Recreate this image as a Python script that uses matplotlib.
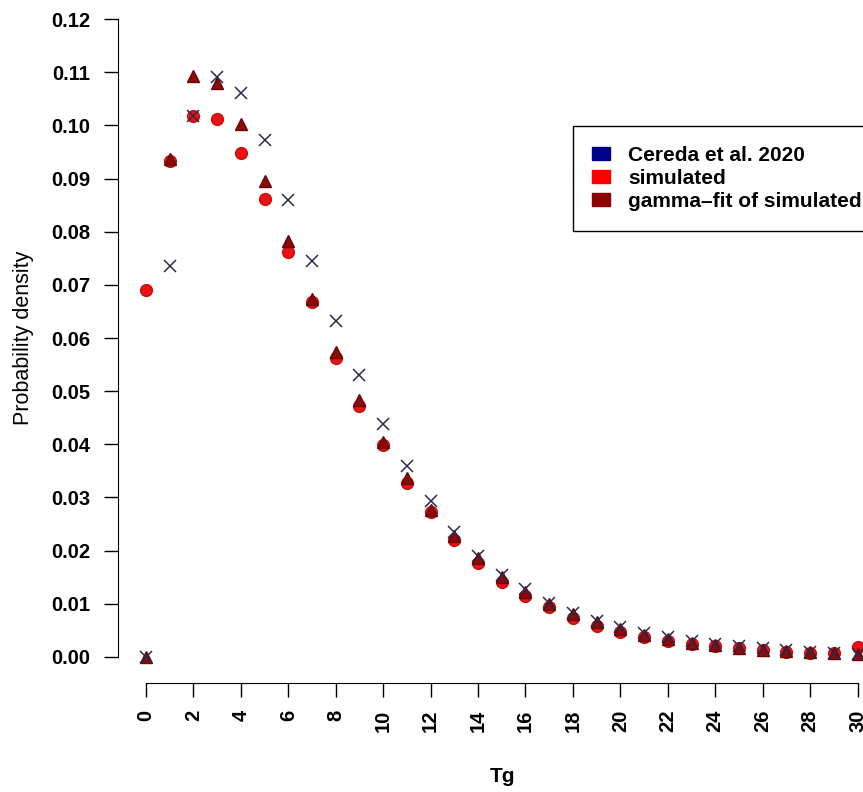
import matplotlib.pyplot as plt
plt.switch_backend('agg')
import numpy as np
from matplotlib.patches import Patch

plt.rcParams['font.family'] = ['Liberation Sans', 'DejaVu Sans']

tg = np.arange(0, 31)

# Cereda et al. 2020
cereda = [0.0000, 0.0735, 0.1017, 0.1090, 0.1060, 0.0972, 0.0860, 0.0744, 0.0632, 0.0530,
          0.0438, 0.0359, 0.0293, 0.0235, 0.0190, 0.0155, 0.0127, 0.0102, 0.0083, 0.0068,
          0.0056, 0.0045, 0.0037, 0.0030, 0.0024, 0.0020, 0.0016, 0.0013, 0.0010, 0.0008,
          0.0006]
# simulated
simulated = [0.0690, 0.0932, 0.1017, 0.1012, 0.0948, 0.0862, 0.0762, 0.0668, 0.0562, 0.0472,
             0.0398, 0.0328, 0.0272, 0.0220, 0.0177, 0.0141, 0.0115, 0.0094, 0.0073, 0.0059,
             0.0047, 0.0038, 0.0030, 0.0025, 0.0020, 0.0016, 0.0013, 0.0010, 0.0008, 0.0007,
             0.0018]
# gamma-fit of simulated
gammafit = [0.0000, 0.0937, 0.1092, 0.1080, 0.1002, 0.0895, 0.0783, 0.0673, 0.0573, 0.0483,
            0.0405, 0.0336, 0.0277, 0.0228, 0.0186, 0.0151, 0.0123, 0.0099, 0.0080, 0.0065,
            0.0052, 0.0042, 0.0034, 0.0027, 0.0022, 0.0017, 0.0014, 0.0011, 0.0009, 0.0007,
            0.0006]

legend_labels = ['Cereda et al. 2020', 'simulated', 'gamma\u2013fit of simulated']
legend_colors = ['#00008b', '#ff0000', '#8b0000']

W, H = 863, 792
fig = plt.figure(figsize=(W/100, H/100), dpi=100)
# R style: plot region goes 4% past the data, picture is cropped top/right
ax = fig.add_axes([117.5/W, (H-682.5)/H, (886-117.5)/W, (682.5+6.5)/H])
ax.set_xlim(-1.2, 31.2)
ax.set_ylim(-0.0048, 0.1248)

ax.plot(tg, simulated, 'o', color='#ee1111', markeredgecolor='#c01010', markersize=8.5, clip_on=False)
ax.plot(tg, gammafit, '^', color='#8b0a0a', markeredgecolor='#6a0505', markersize=9, clip_on=False)
ax.plot(tg, cereda, 'x', color='#2a2a50', markersize=9, markeredgewidth=1.1, clip_on=False)

for s in ['top', 'right']:
    ax.spines[s].set_visible(False)
ax.spines['left'].set_bounds(0, 0.12)
ax.spines['bottom'].set_bounds(0, 30)

yt = np.arange(0, 0.1201, 0.01)
ax.set_yticks(yt)
ax.set_yticklabels(['%.2f' % v for v in yt])
ax.set_xticks(np.arange(0, 31, 2))
ax.set_xticklabels([str(v) for v in range(0, 31, 2)], rotation=90)
ax.tick_params(axis='both', length=10, width=1, labelsize=14.5, pad=9.5)
for lab in ax.get_xticklabels() + ax.get_yticklabels():
    lab.set_fontweight('bold')

fig.text(24/W, 1-338/H, 'Probability density', rotation=90, ha='center', va='center', fontsize=15.5)
fig.text(502/W, 1-776/H, 'Tg', ha='center', va='center', fontsize=15, fontweight='bold')

handles = [Patch(facecolor=c, edgecolor=c) for c in legend_colors]
x0, x1, y0, y1 = 572.7, 905, 126, 233
leg = ax.legend(handles, legend_labels, loc='upper left', mode='expand',
                bbox_to_anchor=(x0/W, 1-y1/H, (x1-x0)/W, (y1-y0)/H), bbox_transform=fig.transFigure,
                frameon=True, fancybox=False, edgecolor='black', framealpha=1,
                prop={'size': 15, 'weight': 'bold'}, handlelength=0.86, handleheight=0.57,
                handletextpad=0.86, labelspacing=0.2, borderpad=0.95, borderaxespad=0)
leg.get_frame().set_linewidth(1)

plt.savefig('out.png', dpi=100)
plt.close()
